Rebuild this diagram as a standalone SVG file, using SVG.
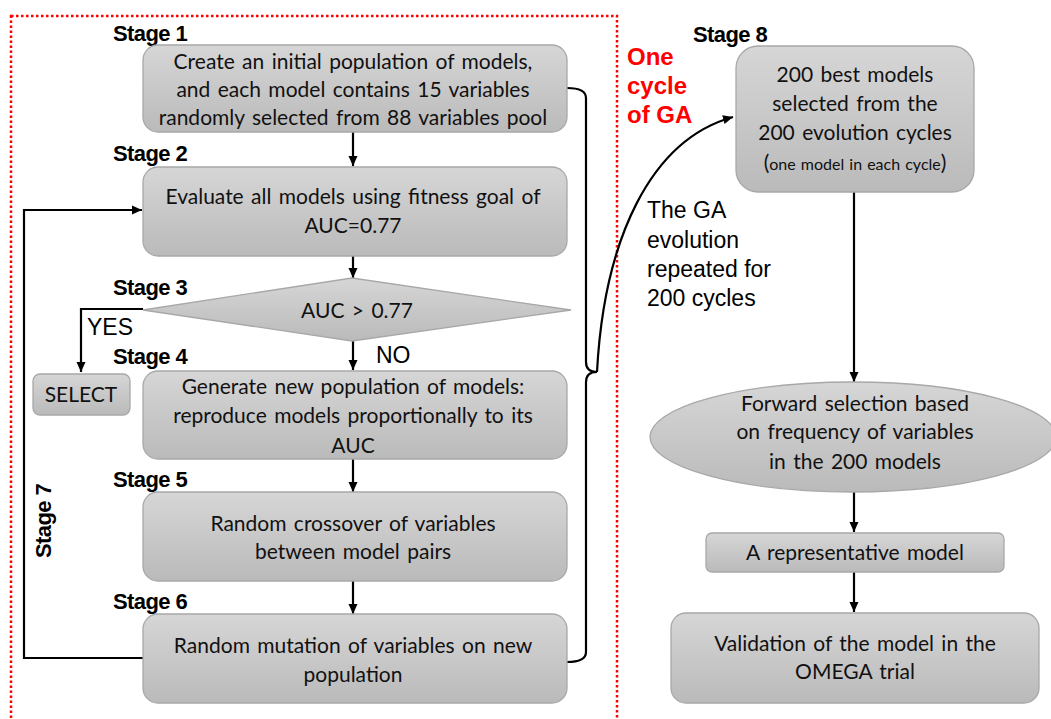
<svg xmlns="http://www.w3.org/2000/svg" width="1051" height="719" viewBox="0 0 1051 719">
<defs>
<linearGradient id="g" x1="0" y1="0" x2="0" y2="1">
<stop offset="0" stop-color="#d6d6d6"/>
<stop offset="1" stop-color="#bababa"/>
</linearGradient>
<marker id="ah" markerUnits="userSpaceOnUse" markerWidth="10" markerHeight="10" viewBox="0 0 10 10" refX="10" refY="5" orient="auto">
<path d="M0,0.5 L10,5 L0,9.5 z" fill="#000"/>
</marker>
<style>
.box{fill:url(#g);stroke:#a8a8a8;stroke-width:1.3}
.t{font-family:Lato,"Open Sans",sans-serif;font-size:21px;fill:#111;text-anchor:middle;word-spacing:2px}
.st{font-family:"Liberation Sans",Arial,sans-serif;font-weight:bold;font-size:22px;fill:#000;letter-spacing:-0.6px}
.lb{font-family:"Liberation Sans",Arial,sans-serif;font-size:23px;fill:#000}
.red{font-family:"Liberation Sans",Arial,sans-serif;font-weight:bold;font-size:24px;fill:#ff0000}
.ln{fill:none;stroke:#000;stroke-width:2.2}
</style>
</defs>
<rect x="11" y="16" width="606" height="730" fill="none" stroke="#ff0000" stroke-width="2.5" stroke-dasharray="2.5 2.5"/>

<g id="connectors">
<line class="ln" x1="353" y1="132" x2="353" y2="166" marker-end="url(#ah)"/>
<line class="ln" x1="353" y1="256" x2="353" y2="278" marker-end="url(#ah)"/>
<line class="ln" x1="353" y1="341" x2="353" y2="370" marker-end="url(#ah)"/>
<line class="ln" x1="353" y1="459" x2="353" y2="492" marker-end="url(#ah)"/>
<line class="ln" x1="353" y1="581" x2="353" y2="614" marker-end="url(#ah)"/>
<path class="ln" d="M143,309 H81 V372" marker-end="url(#ah)"/>
<path class="ln" d="M143,658 H24 V210 H142" marker-end="url(#ah)"/>
<path class="ln" d="M567,88 Q586,88 586,98 V362 Q586,372 597,372 Q586,372 586,382 V652 Q586,662 567,662"/>
<path class="ln" d="M597,372 C604,240 650,140 733,117" marker-end="url(#ah)"/>
<line class="ln" x1="854" y1="192" x2="854" y2="382" marker-end="url(#ah)"/>
<line class="ln" x1="854" y1="492" x2="854" y2="532" marker-end="url(#ah)"/>
<line class="ln" x1="854" y1="572" x2="854" y2="612" marker-end="url(#ah)"/>
<text class="lb" x="87" y="335">YES</text>
<text class="lb" x="376" y="363">NO</text>
</g>

<g id="stage1">
<text class="st" x="113" y="41">Stage 1</text>
<rect class="box" x="143" y="45" width="424" height="87" rx="15"/>
<text class="t" x="353" y="69">Create an initial population of models,</text>
<text class="t" x="353" y="97">and each model contains 15 variables</text>
<text class="t" x="353" y="125">randomly selected from 88 variables pool</text>
</g>

<g id="stage2">
<text class="st" x="113" y="161">Stage 2</text>
<rect class="box" x="143" y="167" width="424" height="89" rx="15"/>
<text class="t" x="353" y="204">Evaluate all models using fitness goal of</text>
<text class="t" x="353" y="233">AUC=0.77</text>
</g>

<g id="stage3">
<text class="st" x="113" y="295">Stage 3</text>
<polygon class="box" points="143,310 352,278 571,310 352,341"/>
<text class="t" x="357" y="318">AUC &gt; 0.77</text>
</g>

<g id="select">
<rect class="box" x="33" y="374" width="97" height="41" rx="7"/>
<text class="t" x="81" y="402">SELECT</text>
</g>

<g id="stage4">
<text class="st" x="113" y="364">Stage 4</text>
<rect class="box" x="143" y="371" width="424" height="88" rx="15"/>
<text class="t" x="353" y="394">Generate new population of models:</text>
<text class="t" x="353" y="423">reproduce models proportionally to its</text>
<text class="t" x="353" y="453">AUC</text>
</g>

<g id="stage5">
<text class="st" x="113" y="487">Stage 5</text>
<rect class="box" x="143" y="492" width="424" height="89" rx="15"/>
<text class="t" x="353" y="531">Random crossover of variables</text>
<text class="t" x="353" y="559">between model pairs</text>
</g>

<g id="stage6">
<text class="st" x="113" y="609">Stage 6</text>
<rect class="box" x="143" y="614" width="424" height="89" rx="15"/>
<text class="t" x="353" y="653">Random mutation of variables on new</text>
<text class="t" x="353" y="682">population</text>
</g>

<g id="stage7">
<text class="st" transform="translate(51,521) rotate(-90)" text-anchor="middle">Stage 7</text>
</g>

<g id="cycle-label">
<text class="red" x="627" y="65">One</text>
<text class="red" x="627" y="94">cycle</text>
<text class="red" x="627" y="123">of GA</text>
</g>

<g id="repeat-label">
<text class="lb" x="647" y="218">The GA</text>
<text class="lb" x="647" y="248">evolution</text>
<text class="lb" x="647" y="277">repeated for</text>
<text class="lb" x="647" y="306">200 cycles</text>
</g>

<g id="stage8">
<text class="st" x="693" y="42">Stage 8</text>
<rect class="box" x="736" y="46" width="238" height="146" rx="22"/>
<text class="t" x="855" y="82">200 best models</text>
<text class="t" x="855" y="111">selected from the</text>
<text class="t" x="855" y="140">200 evolution cycles</text>
<text class="t" x="855" y="170" style="word-spacing:1px"><tspan font-size="21">(</tspan><tspan font-size="16">one model in each cycle</tspan><tspan font-size="21">)</tspan></text>
</g>

<g id="forward">
<ellipse class="box" cx="853" cy="437" rx="203" ry="55"/>
<text class="t" x="855" y="411">Forward selection based</text>
<text class="t" x="855" y="439">on frequency of variables</text>
<text class="t" x="855" y="469">in the 200 models</text>
</g>

<g id="representative">
<rect class="box" x="706" y="533" width="298" height="39" rx="6"/>
<text class="t" x="855" y="560">A representative model</text>
</g>

<g id="validation">
<rect class="box" x="671" y="613" width="368" height="90" rx="15"/>
<text class="t" x="855" y="651">Validation of the model in the</text>
<text class="t" x="855" y="679">OMEGA trial</text>
</g>
</svg>
